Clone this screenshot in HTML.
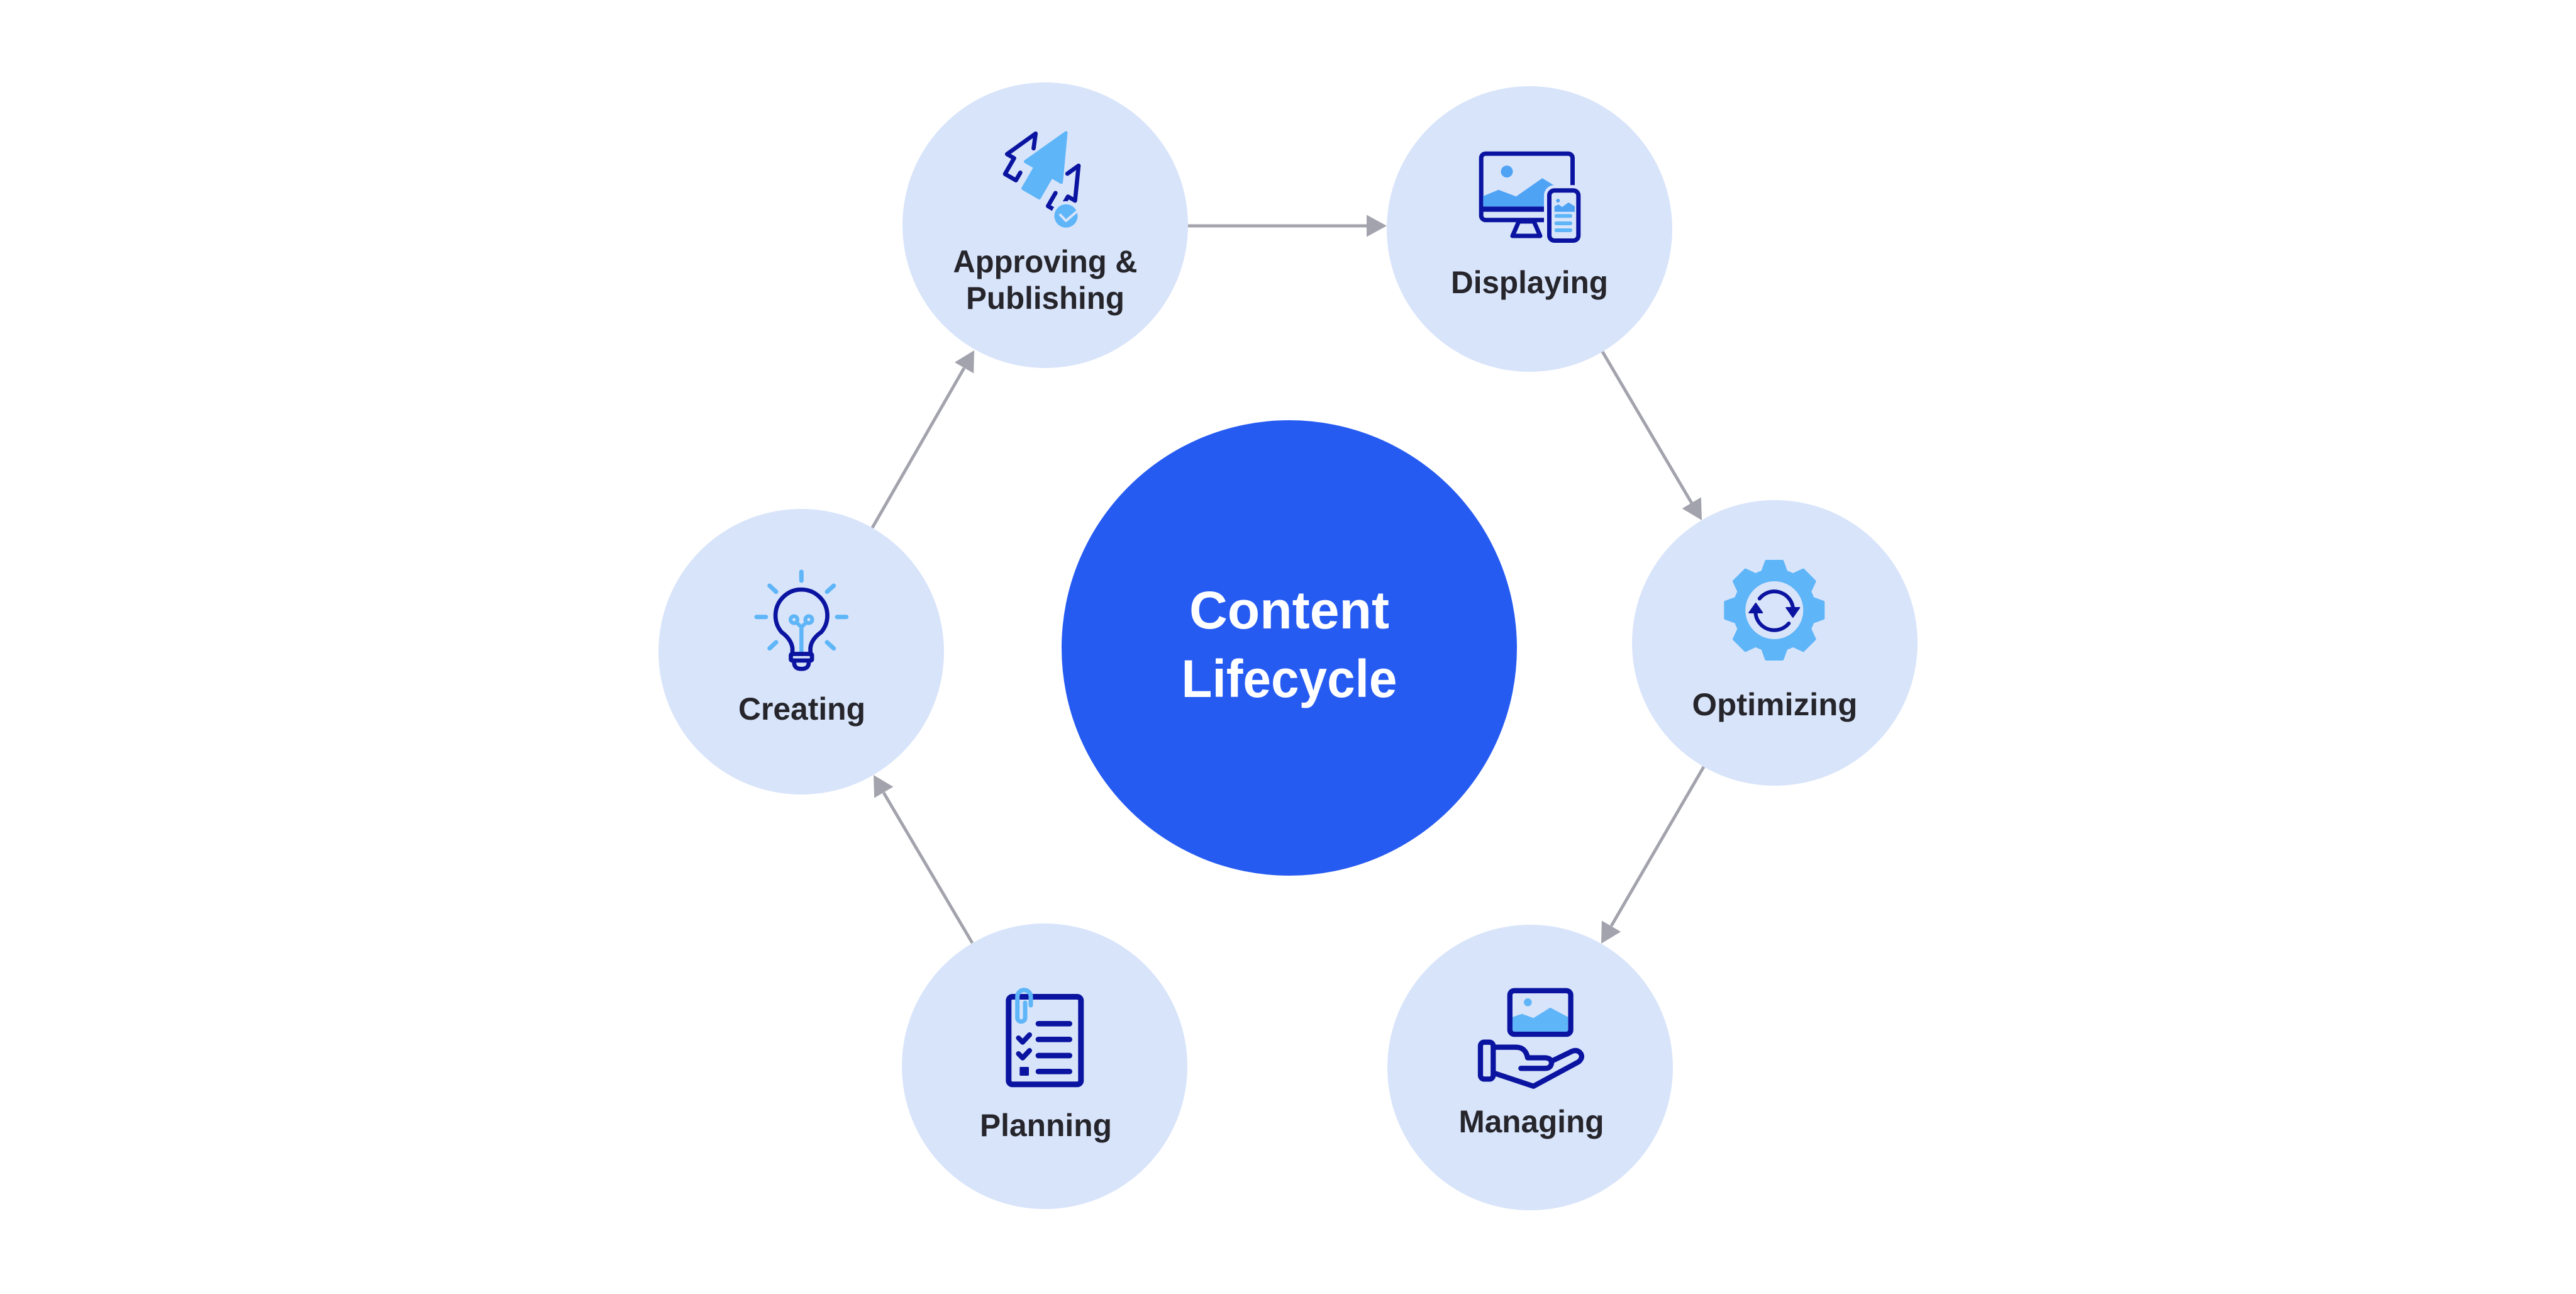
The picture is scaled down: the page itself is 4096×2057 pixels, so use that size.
<!DOCTYPE html>
<html>
<head>
<meta charset="utf-8">
<style>
  html, body { margin: 0; padding: 0; background: #ffffff; }
  svg { display: block; }
  .lbl { font-family: "Liberation Sans", "DejaVu Sans", sans-serif; font-weight: bold; fill: #25252b; font-size: 50px; }
  .ctr { font-family: "Liberation Sans", "DejaVu Sans", sans-serif; font-weight: bold; fill: #ffffff; font-size: 84px; }
</style>
</head>
<body>
<svg width="4096" height="2057" viewBox="0 0 4096 2057" xmlns="http://www.w3.org/2000/svg">
  <rect x="0" y="0" width="4096" height="2057" fill="#ffffff"/>

  <!-- connectors -->
  <g stroke="#a3a3ad" stroke-width="5" fill="none">
    <line x1="1888" y1="359" x2="2175" y2="359"/>
    <line x1="2548" y1="559" x2="2690" y2="800"/>
    <line x1="2709" y1="1219" x2="2562" y2="1472"/>
    <line x1="1546" y1="1499" x2="1405" y2="1260"/>
    <line x1="1387" y1="839" x2="1533" y2="585"/>
  </g>
  <g fill="#a3a3ad">
    <polygon points="2205,359 2173,341.5 2173,376.5"/>
    <polygon points="2706,827 2674.67,808.32 2704.83,790.54"/>
    <polygon points="2546,1500 2546.91,1463.54 2577.19,1481.1"/>
    <polygon points="1389,1232 1420.31,1250.72 1390.13,1268.46"/>
    <polygon points="1549,557 1548.23,593.47 1517.89,576.03"/>
  </g>

  <!-- center -->
  <circle cx="2050" cy="1030" r="362" fill="#265bf2"/>
  <text class="ctr" x="2050" y="999" text-anchor="middle" textLength="318" lengthAdjust="spacingAndGlyphs">Content</text>
  <text class="ctr" x="2050" y="1108" text-anchor="middle" textLength="343" lengthAdjust="spacingAndGlyphs">Lifecycle</text>

  <!-- node circles -->
  <g fill="#d8e4fa">
    <circle cx="1662" cy="358" r="227"/>
    <circle cx="2432" cy="364" r="227"/>
    <circle cx="2822" cy="1022" r="227"/>
    <circle cx="2433" cy="1697" r="227"/>
    <circle cx="1661" cy="1695" r="227"/>
    <circle cx="1274" cy="1036" r="227"/>
  </g>

  <!-- labels -->
  <text class="lbl" x="1662" y="433" text-anchor="middle" textLength="293" lengthAdjust="spacingAndGlyphs">Approving &amp;</text>
  <text class="lbl" x="1662" y="491" text-anchor="middle" textLength="252" lengthAdjust="spacingAndGlyphs">Publishing</text>
  <text class="lbl" x="2432" y="466" text-anchor="middle" textLength="250" lengthAdjust="spacingAndGlyphs">Displaying</text>
  <text class="lbl" x="2822" y="1137" text-anchor="middle" textLength="263" lengthAdjust="spacingAndGlyphs">Optimizing</text>
  <text class="lbl" x="2435" y="1800" text-anchor="middle" textLength="231" lengthAdjust="spacingAndGlyphs">Managing</text>
  <text class="lbl" x="1663" y="1806" text-anchor="middle" textLength="210" lengthAdjust="spacingAndGlyphs">Planning</text>
  <text class="lbl" x="1275" y="1144" text-anchor="middle" textLength="202" lengthAdjust="spacingAndGlyphs">Creating</text>

  <!-- Approving icon -->
  <g stroke="#0a14a0" stroke-width="6.7" fill="none" stroke-linecap="round" stroke-linejoin="round">
    <g transform="translate(1646.7,212.3) rotate(30)">
      <polyline points="9,22 0,0 -23,51 -10,51 -10,80 10,80 10,66"/>
    </g>
    <g transform="translate(1715,263.3) rotate(30)">
      <polyline points="-9,20 0,0 23,51 10,51 10,80 -10,80 -10,56"/>
    </g>
  </g>
  <g transform="translate(1695,211) rotate(30)">
    <polygon points="0,0 33,72 15,72 15,111 -15,111 -15,72 -33,72" fill="#5eb5f8" stroke="#5eb5f8" stroke-width="5" stroke-linejoin="round"/>
  </g>
  <circle cx="1695" cy="343.3" r="21" fill="#5eb5f8" stroke="#d8e4fa" stroke-width="5"/>
  <polyline points="1686,341.7 1695,351 1711.7,336.7" fill="none" stroke="#d8e4fa" stroke-width="4" stroke-linecap="round" stroke-linejoin="round"/>

  <!-- Displaying icon -->
  <rect x="2355.2" y="244.2" width="145.3" height="105.6" rx="7" fill="none" stroke="#0a14a0" stroke-width="7"/>
  <polygon points="2358.3,311.7 2382.7,301.7 2410.7,312.3 2452.3,283.3 2471.7,295 2495,295 2495,328.3 2358.3,328.3" fill="#4fa3f5"/>
  <circle cx="2396" cy="272.7" r="9.5" fill="#4fa3f5"/>
  <rect x="2352" y="328.3" width="152" height="8.4" fill="#0a14a0"/>
  <polygon points="2415,352 2439,352 2449,375 2405,375" fill="none" stroke="#0a14a0" stroke-width="7" stroke-linejoin="round"/>
  <rect x="2463.5" y="302.8" width="46.3" height="79.7" rx="8" fill="#d8e4fa" stroke="#d8e4fa" stroke-width="17"/>
  <rect x="2463.5" y="302.8" width="46.3" height="79.7" rx="8" fill="#d8e4fa" stroke="#0a14a0" stroke-width="7"/>
  <polygon points="2471.7,336.7 2471.7,328 2478,325 2484,329 2494,321.7 2504,328 2504,336.7" fill="#4fa3f5"/>
  <circle cx="2477.3" cy="319" r="3" fill="#4fa3f5"/>
  <g stroke="#5eb5f8" stroke-width="6" stroke-linecap="round">
    <line x1="2474.7" y1="343.3" x2="2497" y2="343.3"/>
    <line x1="2474.7" y1="355" x2="2497" y2="355"/>
    <line x1="2474.7" y1="366" x2="2497" y2="366"/>
  </g>

  <!-- Optimizing gear -->
  <g transform="translate(2821.3,970)">
    <g fill="#5eb5f8" stroke="#5eb5f8" stroke-width="4" stroke-linejoin="round">
      <circle cx="0" cy="0" r="64"/>
      <polygon points="-13,-78 13,-78 21,-56 -21,-56"/>
      <polygon points="-13,-78 13,-78 21,-56 -21,-56" transform="rotate(45)"/>
      <polygon points="-13,-78 13,-78 21,-56 -21,-56" transform="rotate(90)"/>
      <polygon points="-13,-78 13,-78 21,-56 -21,-56" transform="rotate(135)"/>
      <polygon points="-13,-78 13,-78 21,-56 -21,-56" transform="rotate(180)"/>
      <polygon points="-13,-78 13,-78 21,-56 -21,-56" transform="rotate(225)"/>
      <polygon points="-13,-78 13,-78 21,-56 -21,-56" transform="rotate(270)"/>
      <polygon points="-13,-78 13,-78 21,-56 -21,-56" transform="rotate(315)"/>
    </g>
    <circle cx="0" cy="0" r="46" fill="#d8e4fa"/>
    <path d="M -23.5 -18.5 A 30 30 0 0 1 29.5 -5" fill="none" stroke="#0a14a0" stroke-width="6" stroke-linecap="round"/>
    <path d="M 23 21 A 30 30 0 0 1 -30 3" fill="none" stroke="#0a14a0" stroke-width="6" stroke-linecap="round"/>
    <polygon points="19,-4 40,-4 29.5,11" fill="#0a14a0" stroke="#0a14a0" stroke-width="2" stroke-linejoin="round"/>
    <polygon points="-40,4 -19,4 -29.5,-11" fill="#0a14a0" stroke="#0a14a0" stroke-width="2" stroke-linejoin="round"/>
  </g>

  <!-- Creating bulb -->
  <g stroke="#5eb5f8" stroke-width="7" stroke-linecap="round" fill="none">
    <line x1="1274.3" y1="909" x2="1274.3" y2="923"/>
    <line x1="1223.7" y1="931" x2="1234" y2="940.7"/>
    <line x1="1325.7" y1="931" x2="1315" y2="940.7"/>
    <line x1="1203" y1="980.7" x2="1217.7" y2="980.7"/>
    <line x1="1331" y1="980.7" x2="1345.7" y2="980.7"/>
    <line x1="1223.7" y1="1030.7" x2="1234" y2="1021"/>
    <line x1="1325.7" y1="1030.7" x2="1315" y2="1021"/>
    <circle cx="1262.5" cy="985" r="5.5" stroke-width="6"/>
    <circle cx="1286" cy="985" r="5.5" stroke-width="6"/>
    <polyline points="1267,990 1274.3,997 1281.5,990" stroke-width="6"/>
    <line x1="1274.3" y1="997" x2="1274.3" y2="1036" stroke-width="6.5"/>
  </g>
  <g stroke="#0a14a0" stroke-width="6.7" fill="none" stroke-linecap="round" stroke-linejoin="round">
    <path d="M 1260 1040 L 1260 1030 Q 1258 1016 1242.7 1004.8 A 41.2 41.2 0 1 1 1305.9 1004.8 Q 1290 1016 1288.6 1030 L 1288.6 1040"/>
    <rect x="1257.5" y="1039.5" width="33.6" height="10.5" rx="2"/>
    <path d="M 1262.7 1050 V 1053 Q 1262.7 1063.3 1274.3 1063.3 Q 1286 1063.3 1286 1053 V 1050"/>
  </g>

  <!-- Planning clipboard -->
  <rect x="1603.8" y="1584.5" width="115" height="139.3" rx="6" fill="none" stroke="#0a14a0" stroke-width="9"/>
  <path d="M 1639 1598 V 1583.4 A 10.7 10.7 0 0 0 1617.7 1583.4 V 1618.5 A 6.2 6.2 0 0 0 1630 1618.5 V 1594" fill="none" stroke="#5eb5f8" stroke-width="7" stroke-linecap="round"/>
  <g stroke="#0a14a0" stroke-width="8.7" stroke-linecap="round" fill="none" stroke-linejoin="round">
    <line x1="1651" y1="1627.3" x2="1700.7" y2="1627.3"/>
    <line x1="1651" y1="1652.3" x2="1700.7" y2="1652.3"/>
    <line x1="1651" y1="1678" x2="1700.7" y2="1678"/>
    <line x1="1651" y1="1703.3" x2="1700.7" y2="1703.3"/>
    <polyline points="1619.5,1650 1626,1656.7 1637,1645" stroke-width="8"/>
    <polyline points="1619.5,1675 1626,1681.7 1637,1670" stroke-width="8"/>
  </g>
  <rect x="1621.3" y="1696" width="14.7" height="14" rx="1.5" fill="#0a14a0"/>

  <!-- Managing icon -->
  <polygon points="2405,1616.7 2420,1611.7 2438.3,1618.3 2465,1601.7 2493.3,1616.7 2493.3,1640 2405,1640" fill="#5eb5f8"/>
  <circle cx="2429.3" cy="1593.3" r="6.3" fill="#5eb5f8"/>
  <rect x="2400.8" y="1574.8" width="96.8" height="69.3" rx="7" fill="none" stroke="#0a14a0" stroke-width="8.3"/>
  <g stroke="#0a14a0" stroke-width="8.3" fill="none" stroke-linecap="round" stroke-linejoin="round">
    <rect x="2354" y="1656.7" width="20.3" height="58.7" rx="6"/>
    <path d="M 2378 1664.7 H 2410 Q 2426 1664.7 2429 1681.5 H 2457 Q 2467 1682 2467 1690 Q 2466 1698.3 2456.7 1698.3 H 2418.3"/>
    <path d="M 2378.3 1706.7 L 2438.3 1726.7 L 2510 1688 Q 2518 1681 2513 1674 Q 2508 1668 2500 1671 L 2469 1686"/>
  </g>
</svg>
</body>
</html>
